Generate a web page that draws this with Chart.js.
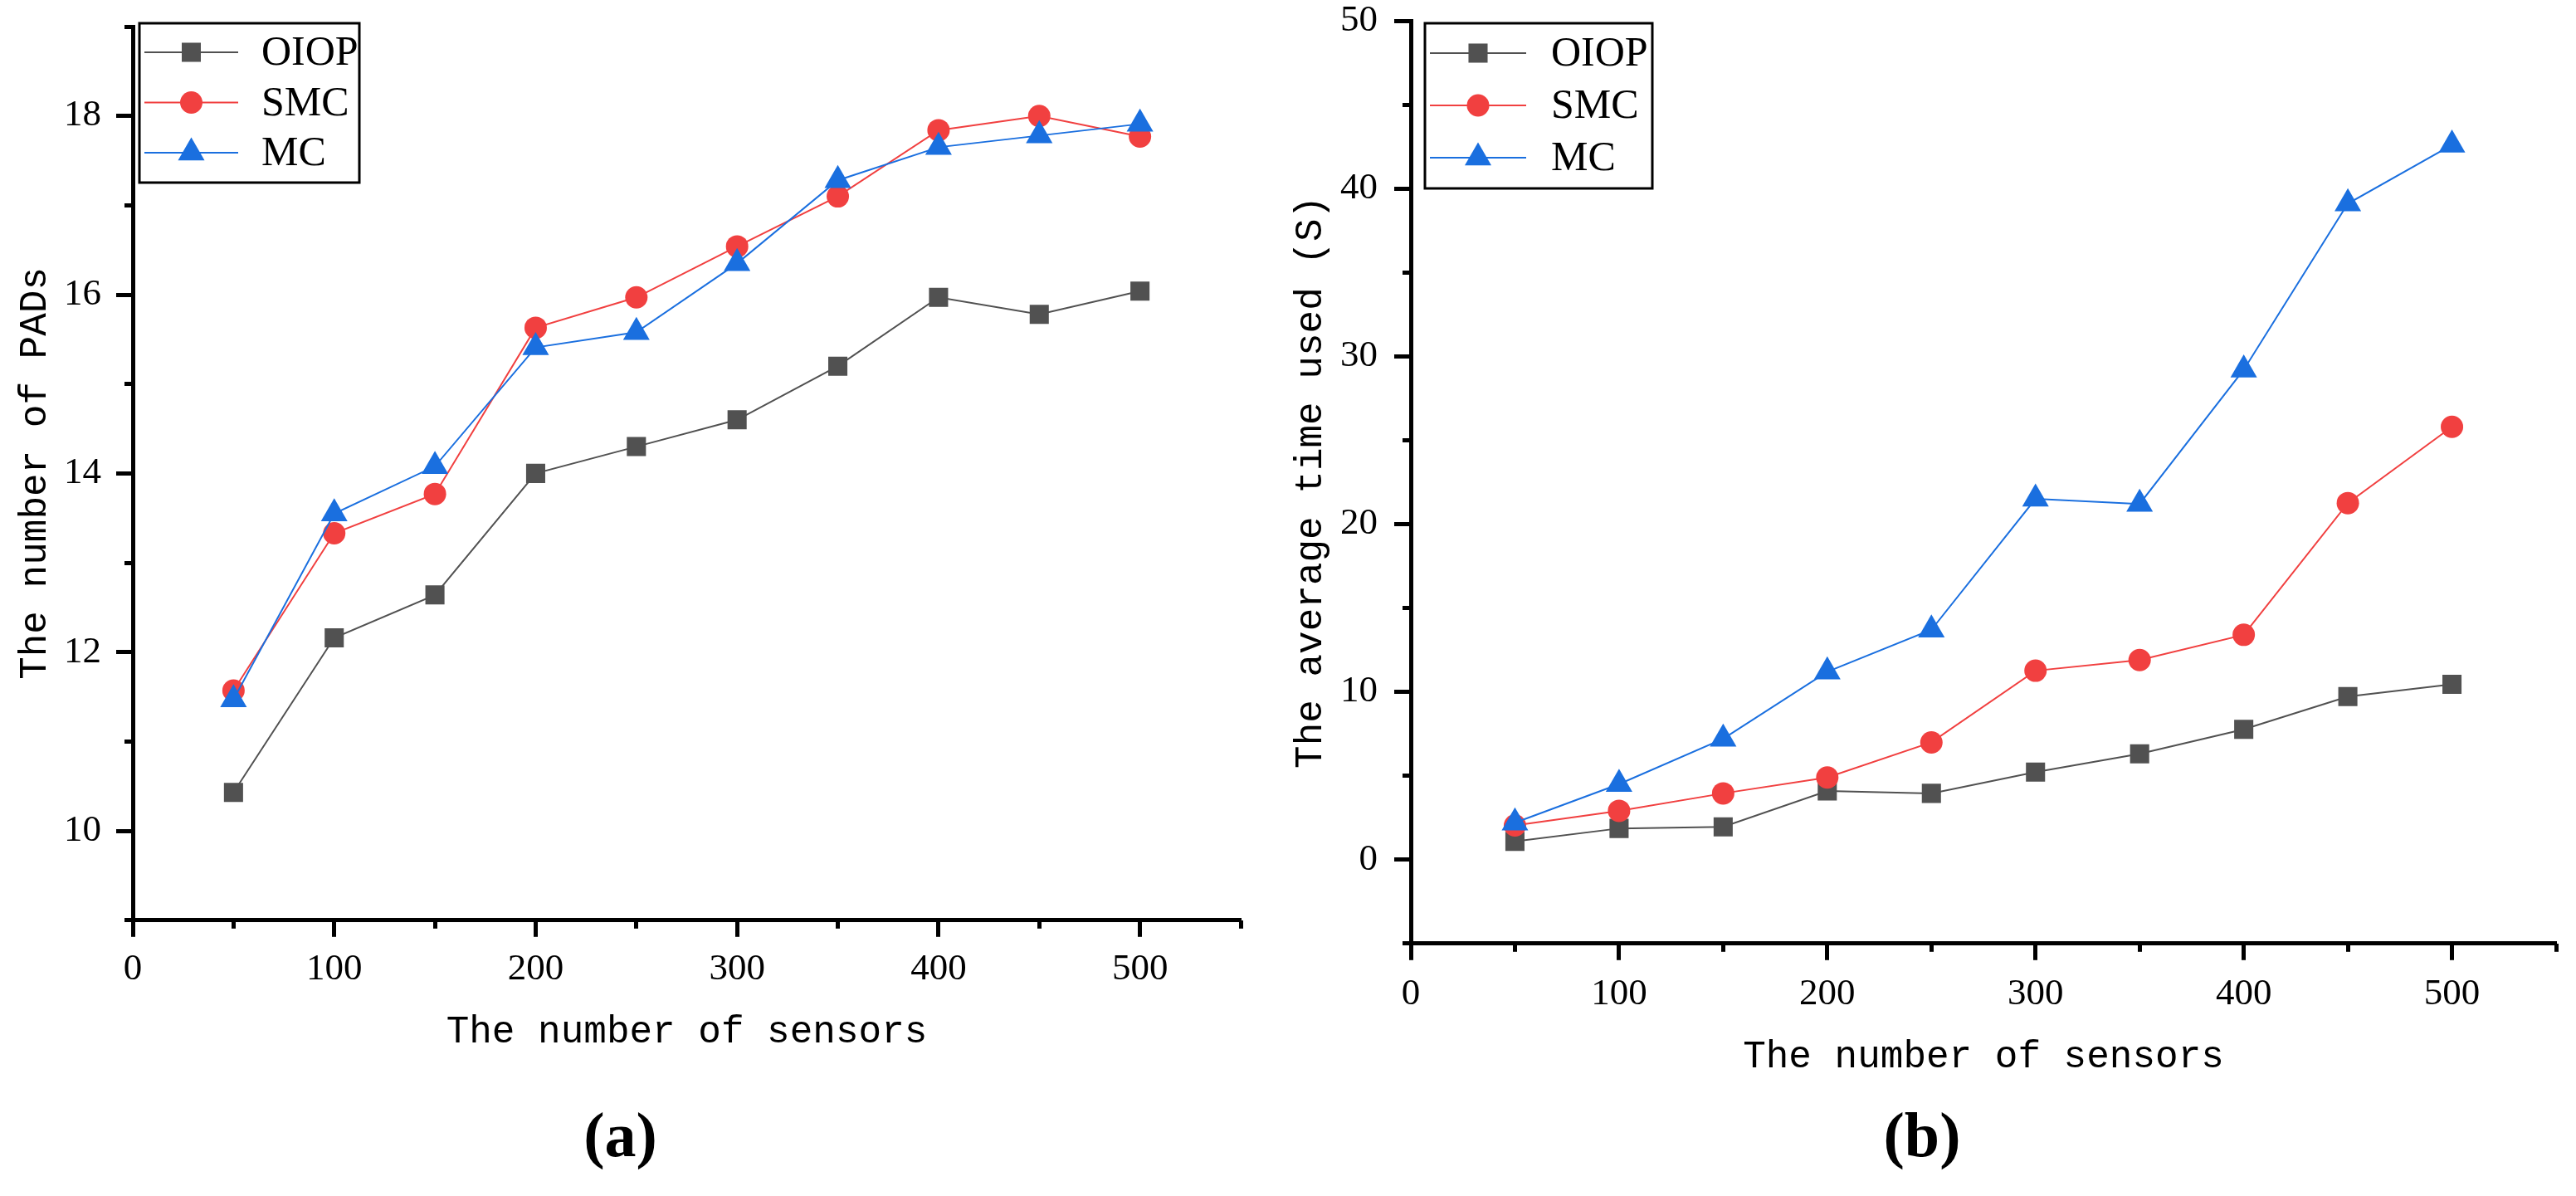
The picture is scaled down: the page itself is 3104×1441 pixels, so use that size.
<!DOCTYPE html>
<html>
<head>
<meta charset="utf-8">
<title>PADs and time used vs number of sensors</title>
<script src="https://cdn.jsdelivr.net/npm/chart.js@4.4.1/dist/chart.umd.min.js"></script>
<style>
  html, body { margin: 0; padding: 0; background: #fff; overflow: hidden; }
  canvas { position: absolute; top: 0; }
  #chartA { left: 0; }
  #chartB { left: 1552px; }
</style>
</head>
<body>
<canvas id="chartA" width="1552" height="1441"></canvas>
<canvas id="chartB" width="1552" height="1441"></canvas>
<script>
// number of sensors (x values)
const sensors = [50, 100, 150, 200, 250, 300, 350, 400, 450, 500];

// (a) number of PADs
const padsOIOP = [10.43, 12.16, 12.64, 14.00, 14.30, 14.60, 15.20, 15.97, 15.78, 16.04];
const padsSMC  = [11.57, 13.33, 13.77, 15.63, 15.97, 16.54, 17.10, 17.84, 18.00, 17.77];
const padsMC   = [11.47, 13.55, 14.08, 15.41, 15.58, 16.35, 17.28, 17.65, 17.78, 17.91];

// (b) average time used (S)
const timeOIOP = [1.09, 1.86, 1.95, 4.09, 3.95, 5.22, 6.31, 7.77, 9.72, 10.45];
const timeSMC  = [2.04, 2.91, 3.95, 4.90, 6.99, 11.26, 11.90, 13.40, 21.25, 25.80];
const timeMC   = [2.20, 4.50, 7.20, 11.20, 13.70, 21.50, 21.20, 29.20, 39.10, 42.60];

const seriesNames = ['OIOP', 'SMC', 'MC'];

// tick labels
const xTickLabels = [0, 100, 200, 300, 400, 500];
const padsTickLabels = [10, 12, 14, 16, 18];
const timeTickLabels = [0, 10, 20, 30, 40, 50];

// look
const colors = ['#515151', '#F14040', '#1A6FDF'];
const markers = ['rect', 'circle', 'triangle'];
const markerSize = [16.3, 13.5, 18.5];
const drawOrder = [2, 1, 0];

const tickFont = { family: 'Liberation Serif', size: 45 };
const titleFont = { family: 'Liberation Mono', size: 46 };
const BLACK = '#000';
const NONE = 'rgba(0,0,0,0)';

Chart.defaults.color = BLACK;

// legend drawn as line + marker + text, like the original figure
const lineLegend = {
    id: 'lineLegend',
    afterDraw(chart, args, opts) {
        const ctx = chart.ctx;
        const a = chart.chartArea;
        const bx = a.left + opts.dx;
        const by = a.top + opts.dy;
        ctx.save();
        ctx.lineWidth = 3;
        ctx.strokeStyle = BLACK;
        ctx.strokeRect(bx, by, opts.w, opts.h);
        chart.data.datasets.forEach(function(ds, i) {
            const y = by + opts.row0 + i * opts.rowGap;
            const x0 = bx + 6;
            const cx = x0 + opts.lineLen / 2;
            ctx.strokeStyle = ds.borderColor;
            ctx.lineWidth = 2;
            ctx.beginPath();
            ctx.moveTo(x0, y);
            ctx.lineTo(x0 + opts.lineLen, y);
            ctx.stroke();

            ctx.fillStyle = ds.pointBackgroundColor;
            const r = ds.pointRadius;
            ctx.beginPath();
            if (ds.pointStyle === 'rect') {
                const s = r * Math.SQRT1_2;
                ctx.rect(cx - s, y - s, 2 * s, 2 * s);
            } else if (ds.pointStyle === 'circle') {
                ctx.arc(cx, y, r, 0, Math.PI * 2);
            } else {
                let rad = 0;
                ctx.moveTo(cx + Math.sin(rad) * r, y - Math.cos(rad) * r);
                rad += 2 * Math.PI / 3;
                ctx.lineTo(cx + Math.sin(rad) * r, y - Math.cos(rad) * r);
                rad += 2 * Math.PI / 3;
                ctx.lineTo(cx + Math.sin(rad) * r, y - Math.cos(rad) * r);
                ctx.closePath();
            }
            ctx.fill();

            ctx.fillStyle = BLACK;
            ctx.font = '50px "Liberation Serif"';
            ctx.textBaseline = 'middle';
            ctx.textAlign = 'left';
            ctx.fillText(ds.label, bx + opts.textX, y + 2);
        });
        ctx.restore();
    }
};

// the axes keep the sizes given here, label overhang must not move the plot area
function fixSize(prop, value) {
    return function(s) {
        s[prop] = value;
        s.paddingTop = 0;
        s.paddingBottom = 0;
        s.paddingLeft = 0;
        s.paddingRight = 0;
    };
}

function makeDatasets(values) {
    return values.map(function(vals, i) {
        return {
            label: seriesNames[i],
            data: sensors.map(function(x, j) { return { x: x, y: vals[j] }; }),
            borderColor: colors[i],
            backgroundColor: colors[i],
            pointBackgroundColor: colors[i],
            pointBorderWidth: 0,
            pointStyle: markers[i],
            pointRadius: markerSize[i],
            borderWidth: 2,
            tension: 0,
            order: drawOrder[i]
        };
    });
}

function makeChart(id, c) {
    const ctx = document.getElementById(id).getContext('2d');
    return new Chart(ctx, {
        type: 'line',
        data: { datasets: makeDatasets(c.values) },
        plugins: [lineLegend],
        options: {
            responsive: false,
            devicePixelRatio: 1,
            animation: false,
            events: [],
            layout: { padding: { left: 0, top: c.padTop, right: c.padRight, bottom: 0 } },
            plugins: {
                legend: { display: false },
                tooltip: { enabled: false },
                title: {
                    display: true,
                    position: 'bottom',
                    text: c.panel,
                    font: { family: 'Liberation Serif', size: 76, weight: 'bold' },
                    color: BLACK,
                    padding: { top: 3, bottom: 22 }
                },
                lineLegend: c.legend
            },
            scales: {
                x: {
                    type: 'linear', position: 'bottom', weight: 1,
                    min: 0, max: 550,
                    afterFit: fixSize('height', c.xHeight),
                    ticks: {
                        stepSize: 50, autoSkip: false, maxRotation: 0,
                        padding: c.xTickPad, font: tickFont, color: BLACK,
                        callback: function(v) { return xTickLabels.includes(v) ? String(v) : ''; }
                    },
                    grid: {
                        drawOnChartArea: false, tickLength: 20, tickWidth: 5,
                        tickColor: function(cx) { return xTickLabels.includes(cx.tick.value) ? BLACK : NONE; }
                    },
                    border: { display: true, color: BLACK, width: 5 },
                    title: {
                        display: true, text: 'The number of sensors', font: titleFont, color: BLACK,
                        padding: { top: 0, bottom: c.xTitlePad }
                    }
                },
                xMinor: {
                    type: 'linear', position: 'bottom', weight: 0,
                    min: 0, max: 550,
                    afterFit: fixSize('height', 0),
                    ticks: { stepSize: 50, display: false },
                    grid: { drawOnChartArea: false, tickLength: 10, tickWidth: 5, tickColor: BLACK },
                    border: { display: false }
                },
                y: {
                    type: 'linear', position: 'left', weight: 1,
                    min: c.yMin, max: c.yMax,
                    afterFit: fixSize('width', c.yWidth),
                    ticks: {
                        stepSize: c.yStep, autoSkip: false,
                        padding: c.yTickPad, font: tickFont, color: BLACK,
                        callback: function(v) { return c.yLabels.includes(v) ? String(v) : ''; }
                    },
                    grid: {
                        drawOnChartArea: false, tickLength: 20, tickWidth: 5,
                        tickColor: function(cx) { return c.yLabels.includes(cx.tick.value) ? BLACK : NONE; }
                    },
                    border: { display: true, color: BLACK, width: 5 },
                    title: {
                        display: true, text: c.yTitle, font: titleFont, color: BLACK,
                        padding: { top: c.yTitlePad, bottom: 0 }
                    }
                },
                yMinor: {
                    type: 'linear', position: 'left', weight: 0,
                    min: c.yMin, max: c.yMax,
                    afterFit: fixSize('width', 0),
                    ticks: { stepSize: c.yStep, display: false },
                    grid: { drawOnChartArea: false, tickLength: 10, tickWidth: 5, tickColor: BLACK },
                    border: { display: false }
                }
            }
        }
    });
}

document.addEventListener('DOMContentLoaded', function() {
    // (a) number of PADs
    makeChart('chartA', {
        values: [padsOIOP, padsSMC, padsMC],
        panel: '(a)',
        yTitle: 'The number of PADs',
        yMin: 9, yMax: 19, yStep: 1, yLabels: padsTickLabels,
        padTop: 32, padRight: 57,
        yWidth: 160, xHeight: 216,
        xTickPad: 12, yTickPad: 18,
        xTitlePad: 53, yTitlePad: 15,
        legend: { dx: 8, dy: -4, w: 265, h: 192, row0: 35, rowGap: 60.5, lineLen: 113, textX: 147 }
    });

    // (b) average time used
    makeChart('chartB', {
        values: [timeOIOP, timeSMC, timeMC],
        panel: '(b)',
        yTitle: 'The average time used (S)',
        yMin: -5, yMax: 50, yStep: 5, yLabels: timeTickLabels,
        padTop: 25, padRight: 24,
        yWidth: 148, xHeight: 188,
        xTickPad: 14, yTickPad: 20,
        xTitlePad: 23, yTitlePad: 0,
        legend: { dx: 17, dy: 3, w: 274, h: 199, row0: 36, rowGap: 63, lineLen: 116, textX: 152 }
    });
});
</script>
</body>
</html>
